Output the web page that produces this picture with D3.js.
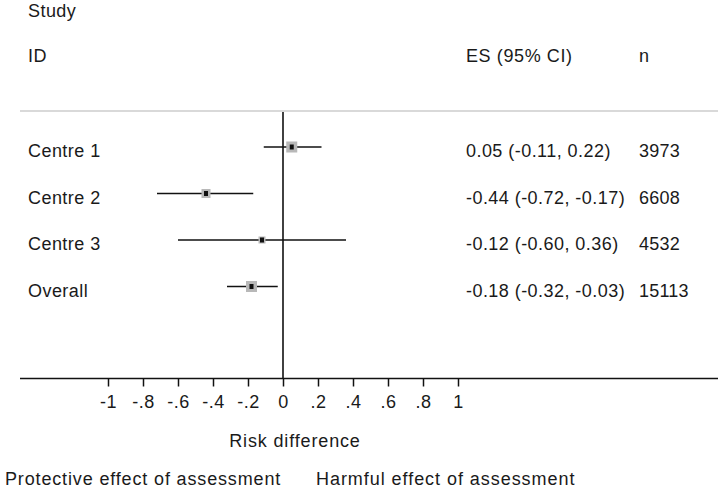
<!DOCTYPE html>
<html><head><meta charset="utf-8">
<script src="https://cdn.jsdelivr.net/npm/d3@7"></script>
<style>body{margin:0;background:#fff}svg{display:block}text{font-family:"Liberation Sans",Arial,sans-serif;fill:#1a1a1a;letter-spacing:0.45px}</style>
</head><body><div id="chart"></div>
<script>
const studies = ["Centre 1","Centre 2","Centre 3","Overall"];
const es = [0.05,-0.44,-0.12,-0.18];
const lower = [-0.11,-0.72,-0.60,-0.32];
const upper = [0.22,-0.17,0.36,-0.03];
const esLabels = ["0.05 (-0.11, 0.22)","-0.44 (-0.72, -0.17)","-0.12 (-0.60, 0.36)","-0.18 (-0.32, -0.03)"];
const nLabels = ["3973","6608","4532","15113"];
const weights = [11,9,7,11];
const ticks = [-1,-0.8,-0.6,-0.4,-0.2,0,0.2,0.4,0.6,0.8,1];
const tickLabels = ["-1","-.8","-.6","-.4","-.2","0",".2",".4",".6",".8","1"];

const W=722,H=489,fs=18;
const svg=d3.select("#chart").append("svg").attr("width",W).attr("height",H);
const x=d3.scaleLinear().domain([-1,1]).range([108,458]);
const y=d3.scalePoint().domain(studies).range([147,286.5]);
const axisY=378.5;

// headers
svg.append("text").attr("x",28).attr("y",17).attr("font-size",fs).text("Study");
svg.append("text").attr("x",28).attr("y",62).attr("font-size",fs).text("ID");
svg.append("text").attr("x",466).attr("y",62).attr("font-size",fs).style("letter-spacing","0.6px").text("ES (95% CI)");
svg.append("text").attr("x",639).attr("y",62).attr("font-size",fs).text("n");
svg.append("line").attr("x1",20).attr("x2",718).attr("y1",111).attr("y2",111).attr("stroke","#ccc").attr("stroke-width",1.5);

// null line
svg.append("line").attr("x1",x(0)).attr("x2",x(0)).attr("y1",112).attr("y2",axisY).attr("stroke","#111").attr("stroke-width",1.6);

const rows=svg.selectAll("g.row").data(studies).enter().append("g").attr("class","row");
rows.append("line").attr("x1",(d,i)=>x(lower[i])).attr("x2",(d,i)=>x(upper[i]))
  .attr("y1",d=>y(d)).attr("y2",d=>y(d)).attr("stroke","#111").attr("stroke-width",1.6);
rows.append("rect").attr("x",(d,i)=>x(es[i])-weights[i]/2).attr("y",(d,i)=>y(d)-weights[i]/2)
  .attr("width",(d,i)=>weights[i]).attr("height",(d,i)=>weights[i]).attr("fill","#b8b8b8");
rows.append("rect").attr("x",(d,i)=>x(es[i])-2).attr("y",d=>y(d)-2.5)
  .attr("width",4).attr("height",5).attr("fill","#111");
rows.append("text").attr("x",28).attr("y",d=>y(d)+10).attr("font-size",fs).text(d=>d);
rows.append("text").attr("x",466).attr("y",d=>y(d)+10).attr("font-size",fs).text((d,i)=>esLabels[i]);
rows.append("text").attr("x",639).attr("y",d=>y(d)+10).attr("font-size",fs).style("letter-spacing","0.2px").text((d,i)=>nLabels[i]);

// axis
const axis=d3.axisBottom(x).tickValues(ticks).tickFormat((d,i)=>tickLabels[i]).tickSize(8).tickPadding(9);
const g=svg.append("g").attr("transform",`translate(0,${axisY})`).call(axis);
g.select(".domain").remove();
g.selectAll(".tick line").attr("stroke","#111").attr("stroke-width",1.5);
g.selectAll(".tick text").attr("font-size",fs).attr("font-family","Liberation Sans, Arial, sans-serif").attr("fill","#1a1a1a");
svg.append("line").attr("x1",20).attr("x2",718).attr("y1",axisY).attr("y2",axisY).attr("stroke","#111").attr("stroke-width",1.6);

svg.append("text").attr("x",295).attr("y",447).attr("text-anchor","middle").attr("font-size",fs).style("letter-spacing","0.85px").text("Risk difference");
svg.append("text").attr("x",5).attr("y",485).attr("font-size",fs).style("letter-spacing","0.85px").text("Protective effect of assessment");
svg.append("text").attr("x",316).attr("y",485).attr("font-size",fs).style("letter-spacing","0.95px").text("Harmful effect of assessment");
</script></body></html>
